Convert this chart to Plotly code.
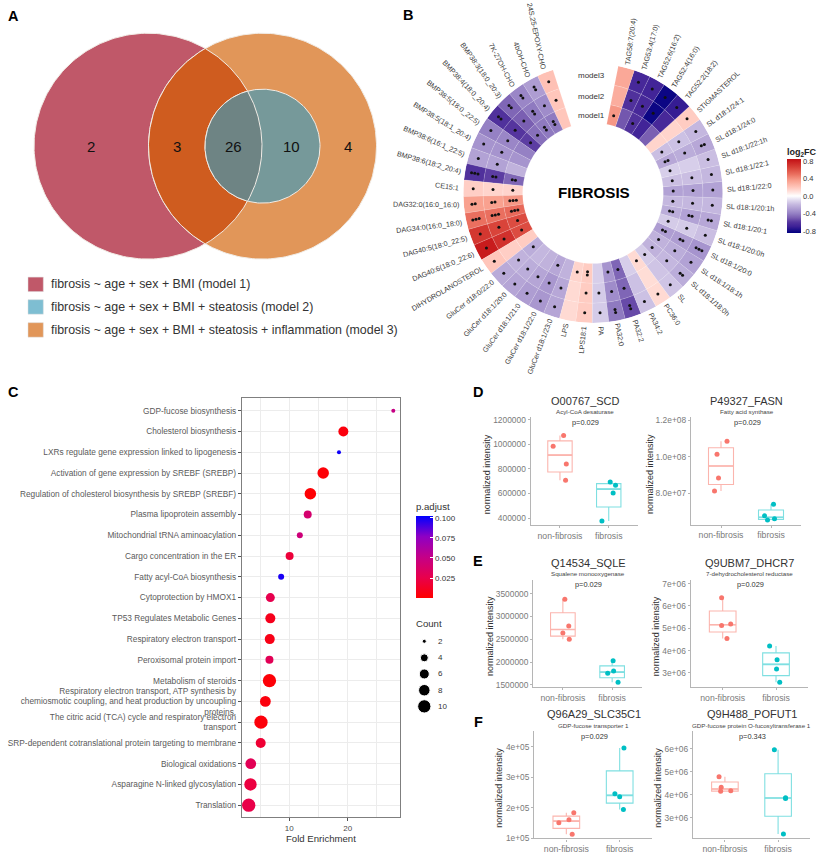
import numpy as np
import plotly.graph_objects as go

W, H = 828, 858
FONT = "Liberation Sans"

# ---------- Panel A data ----------
venn_counts = ["2", "3", "26", "10", "4"]
venn_legend = ["fibrosis ~ age + sex + BMI (model 1)",
               "fibrosis ~ age + sex + BMI + steatosis (model 2)",
               "fibrosis ~ age + sex + BMI + steatosis + inflammation (model 3)"]
venn_legend_colors = ["#c05869", "#7ebed2", "#e19659"]

# ---------- Panel B data ----------
lipids = ["24S,25-EPOXY-CHO", "4bOH-CHO", "7K-27OH-CHO", "BMP38:3(18:0_20:3)", "BMP38:4(18:0_20:4)",
          "BMP38:5(18:0_22:5)", "BMP38:5(18:1_20:4)", "BMP38:6(16:1_22:5)", "BMP38:6(18:2_20:4)", "CE15:1",
          "DAG32:0(16:0_16:0)", "DAG34:0(16:0_18:0)", "DAG40:5(18:0_22:5)", "DAG40:6(18:0_22:6)",
          "DIHYDROLANOSTEROL", "GluCer d18:0/22:0", "GluCer d18:1/20:0", "GluCer d18:1/21:0",
          "GluCer d18:1/22:0", "GluCer d18:1/23:0", "LPS", "LPS18:1", "PA", "PA32:0", "PA32:2", "PA34:2",
          "PC36:0", "SL", "SL d18:1/18:0h", "SL d18:1/18:1h", "SL d18:1/20:0", "SL d18:1/20:0h",
          "SL d18:1/20:1", "SL d18:1/20:1h", "SL d18:1/22:0", "SL d18:1/22:1", "SL d18:1/22:1h",
          "SL d18:1/24:0", "SL d18:1/24:1", "STIGMASTEROL", "TAG52:2(18:2)", "TAG52:4(16:0)",
          "TAG52:6(16:2)", "TAG53:4(17:0)", "TAG58:7(20:4)"]
fc_model1 = [.2, -.42, -.42, -.45, -.58, -.4, -.33, -.22, -.48, .15, .38, .52, .62, .62, .18, -.24, -.2, -.22,
             -.26, -.22, .15, .18, -.13, -.33, -.48, -.13, .13, -.14, -.22, -.22, -.3, -.14, -.24, -.2, -.28,
             -.18, -.13, -.26, -.18, .15, -.5, -.68, -.62, -.52, .38]
fc_model2 = [.2, -.36, -.42, -.5, -.6, -.38, -.33, -.28, -.58, .15, .35, .5, .65, .72, .17, -.22, -.24, -.27,
             -.32, -.26, .13, .18, -.14, -.36, -.48, -.17, .12, -.16, -.2, -.24, -.3, -.14, -.28, -.2, -.28,
             -.18, -.13, -.24, -.17, .15, -.66, -.82, -.66, -.62, .3]
fc_model3 = [.22, -.3, -.38, -.48, -.62, -.4, -.33, -.28, -.62, .17, .35, .5, .7, .8, .2, -.25, -.27, -.3,
             -.32, -.27, .13, .18, -.14, -.42, -.55, -.17, .13, -.16, -.24, -.28, -.33, -.18, -.26, -.2, -.28,
             -.2, -.18, -.26, -.2, .18, -.72, -.82, -.68, -.66, .32]
stars_model1 = [0, 2, 2, 1, 1, 0, 0, 0, 2, 1, 3, 3, 1, 1, 0, 1, 0, 0, 1, 0, 1, 2, 0, 1, 1, 0, 1, 1, 1, 1, 2, 1,
                2, 1, 1, 1, 1, 2, 1, 0, 0, 0, 1, 0, 1]
stars_model2 = [1, 1, 2, 1, 1, 1, 1, 1, 2, 1, 2, 3, 1, 1, 0, 1, 1, 1, 1, 1, 0, 1, 1, 1, 1, 0, 0, 0, 1, 1, 2, 1,
                2, 1, 1, 1, 0, 1, 1, 0, 0, 1, 1, 1, 0]
stars_model3 = [1, 2, 2, 2, 2, 1, 1, 1, 3, 1, 2, 3, 1, 1, 1, 1, 1, 1, 1, 1, 0, 1, 1, 2, 2, 1, 1, 1, 2, 1, 3, 1,
                2, 1, 1, 1, 1, 2, 1, 1, 1, 1, 1, 1, 0]
model_names = ["model1", "model2", "model3"]

# ---------- Panel C data ----------
pathways = ["GDP-fucose biosynthesis", "Cholesterol biosynthesis", "LXRs regulate gene expression linked to lipogenesis",
            "Activation of gene expression by SREBF (SREBP)", "Regulation of cholesterol biosynthesis by SREBP (SREBF)",
            "Plasma lipoprotein assembly", "Mitochondrial tRNA aminoacylation", "Cargo concentration in the ER",
            "Fatty acyl-CoA biosynthesis", "Cytoprotection by HMOX1", "TP53 Regulates Metabolic Genes",
            "Respiratory electron transport", "Peroxisomal protein import", "Metabolism of steroids",
            "Respiratory electron transport, ATP synthesis by<br>chemiosmotic coupling, and heat production by uncoupling<br>proteins.",
            "The citric acid (TCA) cycle and respiratory electron<br>transport",
            "SRP-dependent cotranslational protein targeting to membrane", "Biological oxidations",
            "Asparagine N-linked glycosylation", "Translation"]
fold_enrichment = [27.8, 19.25, 18.5, 15.8, 13.6, 13.15, 11.8, 10.05, 8.6, 6.75, 6.75, 6.65, 6.6, 6.6, 5.9, 5.15,
                   5.1, 3.4, 3.35, 3.05]
gene_count = [2, 6, 2, 8, 8, 4, 3, 4, 3, 5, 6, 6, 4, 10, 7, 10, 6, 7, 9, 10]
p_adjust = [.05, .005, .1, .003, .002, .04, .045, .02, .098, .027, .01, .008, .03, .003, .005, .004, .018, .03,
            .022, .025]
count_breaks = [2, 4, 6, 8, 10]
count_diam = [4, 8, 10, 11.5, 13.3]

# ---------- Panels D-F data ----------
group_names = ["non-fibrosis", "fibrosis"]
scd_non = [1071e3, 985e3, 840e3, 709e3];      scd_fib = [693e3, 668e3, 604e3, 376e3]
fasn_non = [1.085e8, 1.0145e8, 8.84e7, 8.13e7]; fasn_fib = [7.4e7, 6.76e7, 6.6e7, 6.53e7]
sqle_non = [3377e3, 2790e3, 2638e3, 2500e3];  sqle_fib = [2029e3, 1804e3, 1754e3, 1558e3]
dhcr7_non = [6.36e6, 5.19e6, 5.12e6, 4.54e6]; dhcr7_fib = [4.21e6, 3.59e6, 3.18e6, 2.585e6]
slc_non = [1.837e5, 1.609e5, 1.51e5, 1.13e5]; slc_fib = [3.967e5, 2.457e5, 2.36e5, 1.946e5]
pofut_non = [4.79e6, 4.33e6, 4.17e6, 4.15e6]; pofut_fib = [5.97e6, 3.87e6, 3.84e6, 2.28e6]

# layout helpers
def px(x): return x / W
def py(y): return 1 - y / H

fig = go.Figure()
annotations, shapes = [], []

def ann(text, x, y, size, color="#333333", bold=False, xanchor="center", yanchor="middle", angle=0):
    annotations.append(dict(text=f"<b>{text}</b>" if bold else text, x=px(x), y=py(y), xref="paper", yref="paper",
                            showarrow=False, font=dict(size=size, color=color, family=FONT), xanchor=xanchor,
                            yanchor=yanchor, textangle=angle, borderpad=0, borderwidth=0))

# ---------- overlay axes in pixel units: panel A + count legend ----------
fig.update_layout(xaxis=dict(domain=[0, 1], range=[0, W], visible=False, fixedrange=True),
                  yaxis=dict(domain=[0, 1], range=[H, 0], visible=False, fixedrange=True))

def arc(c, r, a0, a1, n=120):
    t = np.linspace(a0, a1, n)
    return c[0] + r * np.cos(t), c[1] + r * np.sin(t)

def circle(c, r):
    return arc(c, r, 0, 2 * np.pi, 240)

def lens(c1, r1, c2, r2):
    d = abs(c2[0] - c1[0])
    a = (d * d + r1 * r1 - r2 * r2) / (2 * d)
    h = np.sqrt(r1 * r1 - a * a)
    t1 = np.arctan2(h, a)
    t2 = np.arctan2(h, d - a)
    x1, y1 = arc(c1, r1, -t1, t1)
    x2, y2 = arc(c2, r2, np.pi - t2, np.pi + t2)
    return np.r_[x1, x2, x1[0]], np.r_[y1, y2, y1[0]]

cL, cR, rBig, rMid = (148, 144.5), (262.5, 144.5), 114, 57.5
edge = "#f1ece6"
venn_shapes = [(circle(cL, rBig), "#c05869"), (circle(cR, rBig), "#e19659"), (lens(cL, rBig, cR, rBig), "#cf5c1f"),
               (circle(cR, rMid), "#76999a"), (lens(cL, rBig, cR, rMid), "#6e8484")]
for (xs, ys), col in venn_shapes:
    fig.add_trace(go.Scatter(x=xs, y=ys, mode="lines", fill="toself", fillcolor=col,
                             line=dict(color=edge, width=1), hoverinfo="skip", showlegend=False))
for t, x in zip(venn_counts, [90.7, 176.7, 234, 291.7, 348]):
    ann(t, x, 144.5, 15, "#111111")
for t, c, y in zip(venn_legend, venn_legend_colors, [284, 306.8, 330]):
    shapes.append(dict(type="rect", xref="paper", yref="paper", x0=px(28), x1=px(43.3), y0=py(y - 7.3), y1=py(y + 7.3),
                       fillcolor=c, line=dict(width=0.5, color="#dddddd")))
    ann(t, 50.7, y, 12.4, "#333333", xanchor="left")

# panel letters
for t, x, y in [("A", 14, 13), ("B", 408, 12), ("C", 13, 393), ("D", 478, 393), ("E", 478, 563), ("F", 478, 726)]:
    ann(t, x, y, 14.5, "#000000", bold=True)

# ---------- Panel B ----------
CX, CY, ROUT = 593, 192, 131
RIN, RING = 71, 20
GAP_EDGE, STEP = 18.0, 7.35
thetas = GAP_EDGE + STEP * (np.arange(len(lipids)) + 0.5)
fig.update_layout(polar=dict(domain=dict(x=[px(CX - ROUT), px(CX + ROUT)], y=[py(CY + ROUT), py(CY - ROUT)]),
                             bgcolor="rgba(0,0,0,0)",
                             radialaxis=dict(visible=False, range=[0, ROUT]),
                             angularaxis=dict(visible=False, rotation=90, direction="counterclockwise"),
                             barmode="overlay"),
                  coloraxis=dict(cmin=-.85, cmax=.85,
                                 colorscale=[[0, "#00007f"], [.088, "#3d2096"], [.147, "#55359e"], [.206, "#7a5fb2"],
                                             [.265, "#9581c4"], [.324, "#ae9dd2"], [.382, "#c4b7df"], [.441, "#dfd8ee"],
                                             [.5, "#ffffff"], [.588, "#ffd4cc"], [.618, "#ffc6bb"], [.706, "#f9a18f"],
                                             [.794, "#ea6f5f"], [.882, "#d9443a"], [1, "#c20f14"]],
                                 colorbar=dict(x=px(786.7), xanchor="left", y=py(195), yanchor="middle", len=74,
                                               lenmode="pixels", thickness=14.3, thicknessmode="pixels", xpad=0, ypad=0,
                                               outlinewidth=0, tickvals=[.8, .4, 0, -.4, -.8],
                                               ticktext=["0.8", "0.4", "0.0", "-0.4", "-0.8"], ticks="",
                                               tickfont=dict(size=7.5, color="#333333", family=FONT))))
for k, vals in enumerate([fc_model1, fc_model2, fc_model3]):
    fig.add_trace(go.Barpolar(r=[RING] * len(lipids), base=[RIN + k * RING] * len(lipids), theta=thetas,
                              width=[STEP] * len(lipids), marker=dict(color=vals, coloraxis="coloraxis",
                              line=dict(color="rgba(255,255,255,0.35)", width=0.4)), hoverinfo="skip", showlegend=False))
dr, dt = [], []
for k, st in enumerate([stars_model1, stars_model2, stars_model3]):
    for th, n in zip(thetas, st):
        for j in range(n):
            dr.append(RIN + (k + .5) * RING + (j - (n - 1) / 2) * 3.3)
            dt.append(th)
fig.add_trace(go.Scatterpolar(r=dr, theta=dt, mode="markers", marker=dict(size=3, color="#111111"),
                              hoverinfo="skip", showlegend=False))

CW = {":": .278, "/": .278, ",": .278, " ": .278, "(": .333, ")": .333, "-": .333, "_": .556, "i": .222, "l": .222,
      "f": .278, "r": .333, "C": .722, "M": .833, "G": .778, "O": .778, "D": .722, "H": .722, "S": .667, "T": .611,
      "A": .667, "B": .667, "P": .667, "E": .667, "R": .722, "N": .722, "L": .556, "K": .667, "I": .278, "Y": .667,
      "X": .667}
LBL = 7.2
for i, name in enumerate(lipids):
    ang = 12 + 7.74 * i                    # text direction, ccw from up
    th = np.radians(thetas[i])
    tx = np.radians(ang)
    wid = sum(CW.get(ch, .556) for ch in name) * LBL
    nearx, neary = CX - (ROUT + 3) * np.sin(th), CY - (ROUT + 3) * np.cos(th)
    x = nearx - np.sin(tx) * wid / 2
    y = neary - np.cos(tx) * wid / 2
    rot = 90 - ang if ang < 180 else np.degrees(np.arctan2(-np.cos(tx), -np.sin(tx)))
    ann(name, x, y, LBL, "#3a3a3a", angle=rot)
for t, y in zip(model_names, [114, 94, 73.5]):
    ann(t, 591.7, y, 8, "#333333")
ann("FIBROSIS", 594, 191, 15.2, "#000000", bold=True)
ann("log<sub>2</sub>FC", 786.5, 151, 9, "#222222", bold=True, xanchor="left")

# ---------- Panel C ----------
ypos = np.arange(len(pathways))[::-1]
GRID = "#ececec"
fig.update_layout(
    xaxis2=dict(domain=[px(242), px(400.3)], range=[1.9, 29], anchor="y2", tick0=0, dtick=10, ticks="outside", ticklen=3,
                tickcolor="#555555", tickfont=dict(size=8, color="#4d4d4d", family=FONT), showgrid=True, gridcolor=GRID,
                gridwidth=.8, zeroline=False, showline=True, mirror=True, linecolor="#7f7f7f", linewidth=1.4,
                minor=dict(dtick=5, tick0=0, showgrid=True, gridcolor=GRID, gridwidth=.5, ticks="")),
    yaxis2=dict(domain=[py(821.7), py(399)], range=[-.57, 19.6], anchor="x2", tickvals=list(ypos), ticktext=pathways,
                ticks="outside", ticklen=3, tickcolor="#555555", tickfont=dict(size=8.3, color="#5a5a5a", family=FONT),
                showgrid=True, gridcolor=GRID, gridwidth=.8, zeroline=False, showline=True, mirror=True,
                linecolor="#7f7f7f", linewidth=1.4),
    coloraxis2=dict(cmin=.0005, cmax=.1025,
                    colorscale=[[0, "#ff0000"], [.25, "#e8004c"], [.5, "#c40088"], [.75, "#8e00c4"], [1, "#0000ff"]],
                    colorbar=dict(x=px(416), xanchor="left", y=py(559), yanchor="middle", len=82, lenmode="pixels",
                                  thickness=16.7, thicknessmode="pixels", xpad=0, ypad=0, outlinewidth=0,
                                  tickvals=[.025, .05, .075, .1], ticktext=["0.025", "0.050", "0.075", "0.100"],
                                  ticks="inside", ticklen=3, tickcolor="#ffffff",
                                  tickfont=dict(size=8, color="#333333", family=FONT))))
fig.add_trace(go.Scatter(x=fold_enrichment, y=ypos, xaxis="x2", yaxis="y2", mode="markers",
                         marker=dict(size=np.interp(gene_count, count_breaks, count_diam), color=p_adjust, opacity=1,
                                     coloraxis="coloraxis2", line=dict(width=0)),
                         hoverinfo="skip", showlegend=False))
ann("Fold Enrichment", 321, 843, 9.6, "#333333")
ann("p.adjust", 416, 508, 9.6, "#333333", xanchor="left")
ann("Count", 416, 626, 9.6, "#333333", xanchor="left")
legend_y = [644.3, 661, 677.3, 693.7, 710]
fig.add_trace(go.Scatter(x=[424.3] * 5, y=legend_y, mode="markers",
                         marker=dict(size=count_diam, color="#000000", opacity=1),
                         hoverinfo="skip", showlegend=False))
for c, y in zip(count_breaks, legend_y):
    ann(str(c), 438, y, 8, "#333333", xanchor="left")

# ---------- Panels D-F ----------
panels = [
    dict(non=scd_non, fib=scd_fib, jn=[.075, -.14, .13, .115], jf=[.03, .14, .09, -.14],
         box=(530.7, 638, 418.3, 527), yr=(343500, 1219000), ticks=[4e5, 6e5, 8e5, 1e6, 1.2e6],
         labels=["400000", "600000", "800000", "1000000", "1200000"],
         title="O00767_SCD", sub="Acyl-CoA desaturase", p="p=0.029", tx=585, ty=401.5, yt=487),
    dict(non=fasn_non, fib=fasn_fib, jn=[.12, -.08, -.05, -.13], jf=[.05, -.13, .07, -.07],
         box=(691, 801, 418, 526.7), yr=(6.27e7, 1.218e8), ticks=[8e7, 1e8, 1.2e8],
         labels=["8.0e+07", "1.0e+08", "1.2e+08"],
         title="P49327_FASN", sub="Fatty acid synthase", p="p=0.029", tx=746.5, ty=401.5, yt=650),
    dict(non=sqle_non, fib=sqle_fib, jn=[.04, .12, 0, .13], jf=[.02, .03, -.09, .12],
         box=(533.3, 641.7, 582.3, 690.3), yr=(1456e3, 3804e3), ticks=[1.5e6, 2e6, 2.5e6, 3e6, 3.5e6],
         labels=["1500000", "2000000", "2500000", "3000000", "3500000"],
         title="Q14534_SQLE", sub="Squalene monooxygenase", p="p=0.029", tx=588, ty=565, yt=490.7),
    dict(non=dhcr7_non, fib=dhcr7_fib, jn=[-.02, .15, -.02, .08], jf=[-.12, .02, .01, .07],
         box=(690.7, 808, 582, 690.3), yr=(2.378e6, 7.178e6), ticks=[3e6, 4e6, 5e6, 6e6, 7e6],
         labels=["3e+06", "4e+06", "5e+06", "6e+06", "7e+06"],
         title="Q9UBM7_DHCR7", sub="7-dehydrocholesterol reductase", p="p=0.029", tx=749.5, ty=565, yt=656),
    dict(non=slc_non, fib=slc_fib, jn=[.14, .05, -.14, .11], jf=[.08, -.09, 0, .07],
         box=(534.3, 651.7, 735, 843.3), yr=(.99e5, 4.52e5), ticks=[1e5, 2e5, 3e5, 4e5],
         labels=["1e+05", "2e+05", "3e+05", "4e+05"],
         title="Q96A29_SLC35C1", sub="GDP-fucose transporter 1", p="p=0.029", tx=593.5, ty=718, yt=499),
    dict(non=pofut_non, fib=pofut_fib, jn=[-.11, -.07, .11, -.08], jf=[-.07, .14, .14, .1],
         box=(693, 810, 735, 843.3), yr=(2.09e6, 6.78e6), ticks=[3e6, 4e6, 5e6, 6e6],
         labels=["3e+06", "4e+06", "5e+06", "6e+06"],
         title="Q9H488_POFUT1", sub="GDP-fucose protein O-fucosyltransferase 1", p="p=0.343", tx=751.7, ty=718, yt=658),
]
PT = ["#f8766d", "#00bfc4"]
BOXLINE = ["#fbb5ae", "#7fdfe1"]
for n, pn in enumerate(panels):
    ax = n + 3
    l, r, t, b = pn["box"]
    fig.layout[f"xaxis{ax}"] = dict(domain=[px(l), px(r)], range=[-.6, 1.6], anchor=f"y{ax}", tickvals=[0, 1],
                                    ticktext=group_names, ticks="outside", ticklen=2, tickcolor="#b5b5b5",
                                    tickfont=dict(size=8.7, color="#7a7a7a", family=FONT), showgrid=False, zeroline=False,
                                    showline=True, linecolor="#b5b5b5", linewidth=1.4)
    fig.layout[f"yaxis{ax}"] = dict(domain=[py(b), py(t)], range=list(pn["yr"]), anchor=f"x{ax}", tickvals=pn["ticks"],
                                    ticktext=pn["labels"], ticks="outside", ticklen=2, tickcolor="#b5b5b5",
                                    tickfont=dict(size=8.4, color="#7a7a7a", family=FONT), showgrid=False, zeroline=False,
                                    showline=True, linecolor="#b5b5b5", linewidth=1.4)
    for g, (vals, jit) in enumerate([(pn["non"], pn["jn"]), (pn["fib"], pn["jf"])]):
        fig.add_trace(go.Box(x=[g] * len(vals), y=vals, xaxis=f"x{ax}", yaxis=f"y{ax}", quartilemethod="inclusive",
                             boxpoints=False, width=.5, whiskerwidth=0, line=dict(color=BOXLINE[g], width=1.1),
                             fillcolor="rgba(255,255,255,0)", hoverinfo="skip", showlegend=False))
        fig.add_trace(go.Scatter(x=[g - .25, g + .25], y=[np.median(vals)] * 2, xaxis=f"x{ax}", yaxis=f"y{ax}", mode="lines",
                                 line=dict(color=BOXLINE[g], width=1.6), hoverinfo="skip", showlegend=False))
        fig.add_trace(go.Scatter(x=np.array(jit) + g, y=vals, xaxis=f"x{ax}", yaxis=f"y{ax}", mode="markers",
                                 marker=dict(size=5, color=PT[g]), hoverinfo="skip", showlegend=False))
    ann(pn["title"], pn["tx"], pn["ty"], 11, "#333333")
    ann(pn["sub"], pn["tx"], pn["ty"] + 11.2, 6.2, "#444444")
    ann(pn["p"], pn["tx"] + .5, pn["ty"] + 22, 7.4, "#333333")
    ann("normalized intensity", pn["yt"], (t + b) / 2 + 3, 9, "#333333", angle=-90)

fig.update_layout(width=W, height=H, autosize=False, margin=dict(l=0, r=0, t=0, b=0), paper_bgcolor="#ffffff",
                  plot_bgcolor="rgba(0,0,0,0)", showlegend=False, font=dict(family=FONT), annotations=annotations,
                  shapes=shapes)
fig.write_html("out.html", config={"displayModeBar": False},
               post_script="document.body.style.margin='0';document.documentElement.style.overflow='hidden';")
